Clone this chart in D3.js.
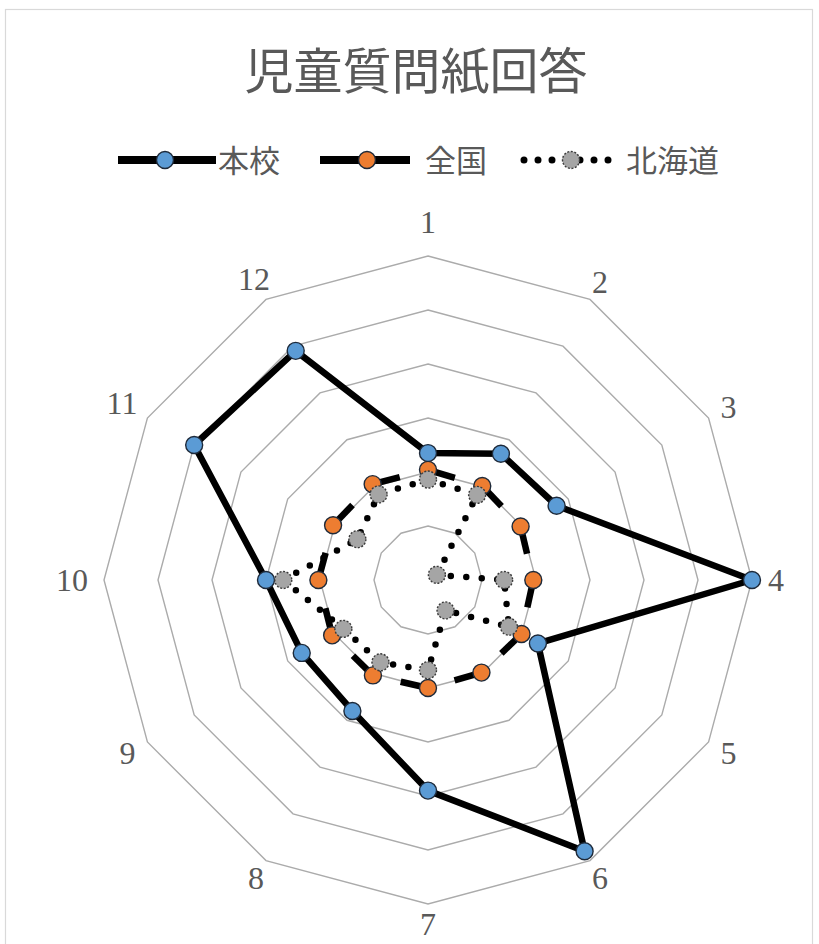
<!DOCTYPE html>
<html>
<head>
<meta charset="utf-8">
<script src="https://cdn.jsdelivr.net/npm/d3@7"></script>
<style>
  html, body { margin: 0; padding: 0; background: #ffffff; }
  svg { display: block; }
</style>
</head>
<body>
<svg id="chart" width="819" height="944"></svg>
<script>
// Survey answers per question (1–12), plotted on a 0–6 radar scale
const titleText = "児童質問紙回答";
const categories = ["1", "2", "3", "4", "5", "6", "7", "8", "9", "10", "11", "12"];
const seriesNames = ["本校", "全国", "北海道"];
const schoolValues   = [2.35, 2.70, 2.75, 6.00, 2.35, 5.80, 3.90, 2.80, 2.70, 3.00, 5.00, 4.90];
const nationalValues = [2.04, 2.01, 1.98, 1.95, 2.00, 1.98, 2.00, 2.04, 2.05, 2.03, 2.03, 2.05];
const hokkaidoValues = [1.86, 1.82, 0.19, 1.41, 1.73, 0.65, 1.67, 1.76, 1.81, 2.68, 1.51, 1.83];
const ringTicks = [1, 2, 3, 4, 5, 6];

const svg = d3.select("#chart");
const W = 819, H = 944;
const cx = 428, cy = 580, R = 324;
const textColor = "#595959";
const cjkFont = "'Noto Sans CJK JP', 'Noto Sans', sans-serif";
const serifFont = "'Liberation Serif', 'DejaVu Serif', serif";

// chart frame
svg.append("rect").attr("width", W).attr("height", H).attr("fill", "#ffffff");
svg.append("rect")
  .attr("x", 5.5).attr("y", 9.5).attr("width", 807).attr("height", 980)
  .attr("fill", "none").attr("stroke", "#d9d9d9").attr("stroke-width", 1.2);

// title
svg.append("text")
  .attr("x", 416).attr("y", 89)
  .attr("text-anchor", "middle")
  .attr("font-family", cjkFont).attr("font-size", 49)
  .attr("fill", textColor)
  .text(titleText);

const rScale = d3.scaleLinear().domain([0, 6]).range([0, R]);
const aScale = d3.scaleLinear().domain([0, categories.length]).range([0, 2 * Math.PI]);

const plot = svg.append("g").attr("transform", `translate(${cx},${cy})`);

// grid rings
const ringLine = t => d3.lineRadial()
  .angle((d, i) => aScale(i))
  .radius(() => rScale(t))
  .curve(d3.curveLinearClosed)(categories);

plot.append("g").selectAll("path")
  .data(ringTicks)
  .join("path")
  .attr("d", d => ringLine(d))
  .attr("fill", "none")
  .attr("stroke", "#ababab")
  .attr("stroke-width", 1.4);

// category labels around the outer ring
const labels = plot.append("g");
categories.forEach((c, i) => {
  const a = aScale(i);
  const ux = Math.sin(a), uy = -Math.cos(a);
  const t = labels.append("text")
    .attr("text-anchor", "middle")
    .attr("dominant-baseline", "central")
    .attr("font-family", serifFont).attr("font-size", 32)
    .attr("fill", textColor)
    .text(c);
  const w = t.node().getBBox().width;
  const r = R + 16 + Math.abs(ux) * w / 2 + (Math.abs(uy) > 0.99 ? 18 : 0);
  // keep the bottom label inside the frame
  const y = Math.min(r * uy, H - cy - 20);
  t.attr("x", r * ux).attr("y", y);
});

const radial = d3.lineRadial()
  .angle(d => aScale(d.i))
  .radius(d => rScale(d.v));

const toPts = vals => vals.map((v, i) => ({ i, v }));

const series = [
  { name: seriesNames[0], values: schoolValues,   fill: "#5b9bd5", kind: "solid" },
  { name: seriesNames[1], values: nationalValues, fill: "#ed7d31", kind: "dash" },
  { name: seriesNames[2], values: hokkaidoValues, fill: "#a5a5a5", kind: "dot" }
];

function styleLine(sel, kind) {
  sel.attr("fill", "none").attr("stroke", "#000").attr("stroke-width", 6.5);
  if (kind === "solid") sel.attr("stroke-linejoin", "round");
  if (kind === "dash") sel.attr("stroke-dasharray", "28 80").attr("stroke-linecap", "butt");
  if (kind === "dot") sel.attr("stroke-dasharray", "0 15.5").attr("stroke-linecap", "round");
}

function styleMarker(sel, s) {
  sel.attr("r", 8.5).attr("fill", s.fill)
    .attr("stroke", s.kind === "dot" ? "#3a3a3a" : "#1e2a3a")
    .attr("stroke-width", 1.4);
  if (s.kind === "dot") sel.attr("stroke-dasharray", "2 1.6");
}

series.forEach(s => {
  const g = plot.append("g");
  const pts = toPts(s.values);
  if (s.kind === "dash") {
    // dash pattern restarts at every vertex
    const segs = pts.map((p, k) => [p, pts[(k + 1) % pts.length]]);
    g.selectAll("path").data(segs).join("path")
      .attr("d", d => radial.curve(d3.curveLinear)(d))
      .call(styleLine, s.kind);
  } else {
    g.append("path")
      .attr("d", radial.curve(d3.curveLinearClosed)(pts))
      .call(styleLine, s.kind);
  }
  g.selectAll("circle").data(pts).join("circle")
    .attr("cx", d => rScale(d.v) * Math.sin(aScale(d.i)))
    .attr("cy", d => -rScale(d.v) * Math.cos(aScale(d.i)))
    .call(styleMarker, s);
});

// legend
const legendY = 160;
const legendItems = [
  { x0: 118, x1: 216, mx: 165, tx: 218 },
  { x0: 320, x1: 410, mx: 367, tx: 425 },
  { x0: 524, x1: 610, mx: 571, tx: 626 }
];
const legend = svg.append("g");
series.forEach((s, k) => {
  const L = legendItems[k];
  const line = legend.append("line")
    .attr("x1", L.x0).attr("x2", L.x1)
    .attr("y1", legendY).attr("y2", legendY)
    .call(styleLine, s.kind)
    .attr("stroke-width", 8);
  if (s.kind === "dash") line.attr("stroke-dasharray", "41 10");
  if (s.kind === "dot") line.attr("stroke-dasharray", "0 14").attr("stroke-width", 7);
  legend.append("circle")
    .attr("cx", L.mx).attr("cy", legendY)
    .call(styleMarker, s);
  legend.append("text")
    .attr("x", L.tx).attr("y", legendY + 12)
    .attr("font-family", cjkFont).attr("font-size", 31)
    .attr("fill", textColor)
    .text(s.name);
});
</script>
</body>
</html>
